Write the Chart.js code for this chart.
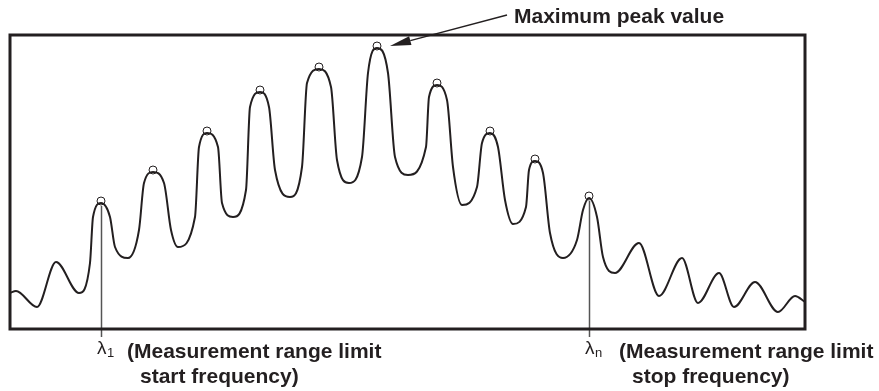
<!DOCTYPE html>
<html>
<head>
<meta charset="utf-8">
<script src="https://cdn.jsdelivr.net/npm/chart.js@4/dist/chart.umd.min.js"></script>
<style>
  html, body { margin: 0; padding: 0; background: #ffffff; }
  #wrap { width: 879px; height: 391px; }
</style>
</head>
<body>
<div id="wrap"><canvas id="c" width="879" height="391"></canvas></div>
<script>
// Spectrum trace: wavelength position (arbitrary units, 0..795) and level (arbitrary units, 0..294)
const waveX = [0, 6, 27, 46, 69, 80, 83, 91, 100, 105, 118, 129, 134, 143, 154, 161, 168, 185, 189, 197, 208, 212, 223, 236, 240, 250, 259, 265, 280, 292, 297, 309, 321, 327, 339, 352, 358, 367, 378, 385, 398, 416, 419, 427, 437, 443, 452, 467, 472, 480, 488, 495, 503, 516, 519, 525, 533, 540, 553, 567, 573, 579, 587, 593, 605, 629, 649, 672, 688, 709, 724, 745, 768, 785, 795];
const waveY = [36, 38, 22, 67, 36, 66, 112, 126, 112, 82, 71, 99, 146, 157, 146, 99, 82, 112, 182, 196, 182, 126, 112, 139, 222, 237, 222, 159, 132, 162, 246, 260, 242, 169, 146, 172, 256, 281, 256, 172, 154, 182, 232, 244, 229, 162, 124, 142, 186, 196, 182, 129, 105, 122, 159, 168, 156, 96, 71, 89, 119, 131, 112, 72, 56, 86, 33, 71, 26, 56, 22, 47, 17, 33, 27];

// Detected peaks (markers), λ1 ... λn
const peakX = [91, 143, 197, 250, 309, 367, 427, 480, 525, 579];
const peakY = [126, 157, 196, 237, 260, 281, 244, 196, 168, 131];

// Annotation texts
const maxLabel = 'Maximum peak value';
const startSymbol = 'λ';
const startSub = '1';
const stopSymbol = 'λ';
const stopSub = 'n';
const startLines = ['(Measurement range limit', 'start frequency)'];
const stopLines = ['(Measurement range limit', 'stop frequency)'];

const INK = '#231f20';

const annotations = {
  id: 'annotations',
  beforeDatasetsDraw(chart) {
    const { ctx, chartArea: a, scales } = chart;
    const xs = scales.x, ys = scales.y;
    ctx.save();
    ctx.strokeStyle = '#555555';
    ctx.lineWidth = 1.5;
    [0, peakX.length - 1].forEach(i => {
      const px = Math.round(xs.getPixelForValue(peakX[i])) + 0.5;
      const py = ys.getPixelForValue(peakY[i]);
      ctx.beginPath();
      ctx.moveTo(px, py + 3);
      ctx.lineTo(px, a.bottom + 8);
      ctx.stroke();
    });
    ctx.restore();
  },
  afterDatasetsDraw(chart) {
    const { ctx, chartArea: a, scales } = chart;
    const xs = scales.x, ys = scales.y;
    ctx.save();
    ctx.strokeStyle = INK;
    ctx.lineWidth = 3;
    ctx.strokeRect(a.left, a.top, a.right - a.left, a.bottom - a.top);

    let mi = 0;
    peakY.forEach((v, i) => { if (v > peakY[mi]) mi = i; });
    const mx = xs.getPixelForValue(peakX[mi]);
    const my = ys.getPixelForValue(peakY[mi]);
    const tip = { x: mx + 13, y: my - 2 };
    const tail = { x: 507, y: 15 };
    const ang = Math.atan2(tail.y - tip.y, tail.x - tip.x);
    const headLen = 21, headHalf = 4.5;
    const bx = tip.x + Math.cos(ang) * headLen, by = tip.y + Math.sin(ang) * headLen;
    ctx.strokeStyle = INK;
    ctx.lineWidth = 1.3;
    ctx.beginPath();
    ctx.moveTo(bx, by);
    ctx.lineTo(tail.x, tail.y);
    ctx.stroke();
    ctx.fillStyle = INK;
    ctx.beginPath();
    ctx.moveTo(tip.x, tip.y);
    ctx.lineTo(bx - Math.sin(ang) * headHalf, by + Math.cos(ang) * headHalf);
    ctx.lineTo(bx + Math.sin(ang) * headHalf, by - Math.cos(ang) * headHalf);
    ctx.closePath();
    ctx.fill();

    ctx.fillStyle = INK;
    ctx.textBaseline = 'alphabetic';
    ctx.textAlign = 'left';
    ctx.font = 'bold 21px "Liberation Sans", Arial, sans-serif';
    ctx.fillText(maxLabel, 514, 23);

    const drawLambda = (x, sym, sub) => {
      ctx.font = '19px "Liberation Sans", Arial, sans-serif';
      ctx.fillText(sym, x, 354);
      const w = ctx.measureText(sym).width;
      ctx.font = '13px "Liberation Sans", Arial, sans-serif';
      ctx.fillText(sub, x + w + 0.5, 357);
    };
    drawLambda(97, startSymbol, startSub);
    drawLambda(585, stopSymbol, stopSub);

    ctx.font = 'bold 21px "Liberation Sans", Arial, sans-serif';
    ctx.fillText(startLines[0], 127, 358);
    ctx.fillText(startLines[1], 140, 383);
    ctx.fillText(stopLines[0], 619, 358);
    ctx.fillText(stopLines[1], 632, 383);
    ctx.restore();
  }
};

new Chart(document.getElementById('c'), {
  type: 'line',
  data: {
    datasets: [
      {
        label: 'Spectrum',
        data: waveX.map((x, i) => ({ x, y: waveY[i] })),
        borderColor: INK,
        borderWidth: 2,
        pointRadius: 0,
        fill: false,
        cubicInterpolationMode: 'monotone',
        order: 2
      },
      {
        label: 'Peaks',
        data: peakX.map((x, i) => ({ x, y: peakY[i] + 2 })),
        showLine: false,
        pointStyle: 'circle',
        pointRadius: 4,
        pointBorderWidth: 1,
        pointBorderColor: INK,
        pointBackgroundColor: 'rgba(0,0,0,0)',
        order: 1
      }
    ]
  },
  options: {
    responsive: false,
    devicePixelRatio: 1,
    animation: false,
    layout: { padding: { left: 10, top: 35, right: 74, bottom: 62 } },
    plugins: {
      legend: { display: false },
      tooltip: { enabled: false },
      title: { display: false }
    },
    scales: {
      x: { type: 'linear', min: 0, max: 795, display: false },
      y: { type: 'linear', min: 0, max: 294, display: false }
    }
  },
  plugins: [annotations]
});
</script>
</body>
</html>
